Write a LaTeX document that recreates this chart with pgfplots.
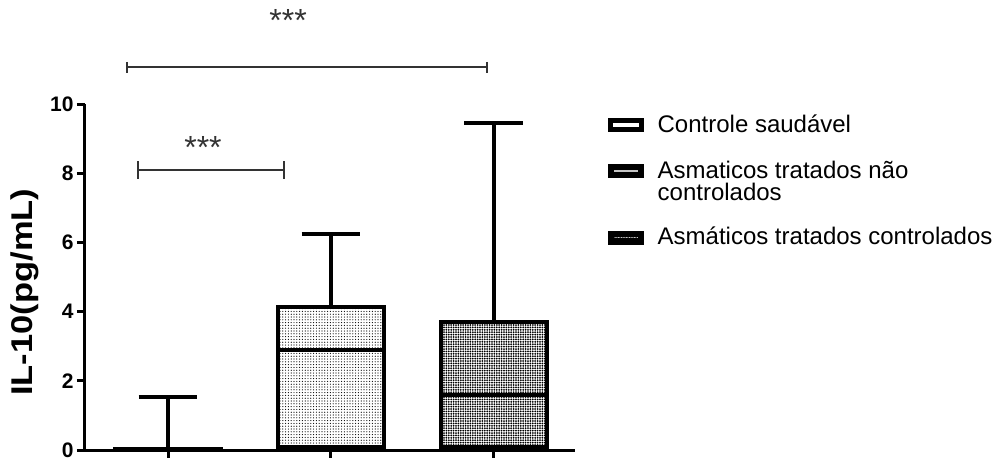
\documentclass[border=0pt]{standalone}
\usepackage{fontspec}
\setmainfont{Liberation Sans}
\usepackage{graphicx}
\usepackage{pgfplots}
\pgfplotsset{compat=1.18}
\usepgfplotslibrary{statistics}
\usetikzlibrary{patterns.meta}

\begin{document}
\begin{tikzpicture}
\useasboundingbox (0,0) rectangle (499pt,228.5pt);
\begin{axis}[
  at={(42.5pt,3.5pt)}, anchor=south west,
  scale only axis, width=245pt, height=173pt,
  xmin=0.49, xmax=3.5, ymin=0, ymax=10,
  axis x line*=bottom, axis y line*=left,
  axis line style={line width=1.5pt, -},
  xtick={1,2,3}, xticklabels={},
  ytick={0,2,4,6,8,10}, yticklabels={0,2,4,6,8,10},
  tick align=outside, major tick length=4pt,
  tick style={line width=1.5pt, black},
  yticklabel style={font=\bfseries\fontsize{10.5}{12}\selectfont, inner sep=1.5pt},
  ylabel={\scalebox{1.15}[1]{IL-10(pg/mL)}},
  ylabel style={font=\bfseries\fontsize{15}{18}\selectfont, at={(axis description cs:-0.122,0.456)}, anchor=center},
  clip=false,
  boxplot/draw direction=y,
  boxplot/box extend=0.65,
  boxplot/whisker extend=0.36,
  legend style={at={(axis description cs:1.054,0.994)}, anchor=north west, draw=none, fill=none,
    font=\fontsize{12}{11}\selectfont, row sep=8pt,
    /tikz/every odd column/.append style={column sep=5pt}},
  legend cell align=left,
  legend style={cells={align=left}},
]
\addplot[boxplot prepared={lower whisker=0, lower quartile=0, median=0.04, upper quartile=0.04, upper whisker=1.54, draw position=1},
  draw=black, line width=2pt, fill=white, forget plot] coordinates {};
\addplot[boxplot prepared={lower whisker=0, lower quartile=0.08, median=2.88, upper quartile=4.12, upper whisker=6.23, draw position=2},
  draw=black, line width=2pt, pattern={Dots[distance=1.4pt, radius=0.3pt]}, pattern color=black, forget plot] coordinates {};
\addplot[boxplot prepared={lower whisker=0, lower quartile=0.08, median=1.59, upper quartile=3.70, upper whisker=9.46, draw position=3},
  draw=black, line width=2pt, pattern={Dots[distance=1.2pt, radius=0.5pt]}, pattern color=black, forget plot] coordinates {};

\addplot[line width=1pt, color=black!80, mark=|, mark size=2.75pt, mark options={line width=1pt}, forget plot]
  coordinates {(0.748,11.06) (2.957,11.06)};
\addplot[line width=1pt, color=black!80, mark=|, mark size=4.5pt, mark options={line width=1pt}, forget plot]
  coordinates {(0.815,8.08) (1.714,8.08)};
\node[font=\fontsize{16}{18}\selectfont, text=black!80] at (axis cs:1.738,12.4) {***};
\node[font=\fontsize{16}{18}\selectfont, text=black!80] at (axis cs:1.215,8.75) {***};

\addlegendimage{legend image code/.code={
  \path[draw=none, fill=none] (0pt,-8pt) rectangle (0pt,3.25pt);
  \fill[black] (0pt,-3.25pt) rectangle (17.5pt,3.25pt);
  \fill[white] (2.5pt,-0.9pt) rectangle (15pt,0.9pt);}}
\addlegendentry{Controle saudável}
\addlegendimage{legend image code/.code={
  \path[draw=none, fill=none] (0pt,-9pt) rectangle (0pt,9pt);
  \fill[black] (0pt,2.25pt) rectangle (17.5pt,8.75pt);
  \fill[white] (2.5pt,4.9pt) rectangle (15pt,6.1pt);
  \fill[pattern={Dots[distance=1pt, radius=0.3pt]}] (2.5pt,4.9pt) rectangle (15pt,6.1pt);}}
\addlegendentry{Asmaticos tratados não\\controlados}
\addlegendimage{legend image code/.code={
  \fill[black] (0pt,-3.25pt) rectangle (17.5pt,3.25pt);
  \fill[white] (2.5pt,-0.6pt) rectangle (15pt,0.6pt);
  \fill[pattern={Dots[distance=0.8pt, radius=0.3pt]}] (2.5pt,-0.6pt) rectangle (15pt,0.6pt);}}
\addlegendentry{Asmáticos tratados controlados}
\end{axis}
\end{tikzpicture}
\end{document}
